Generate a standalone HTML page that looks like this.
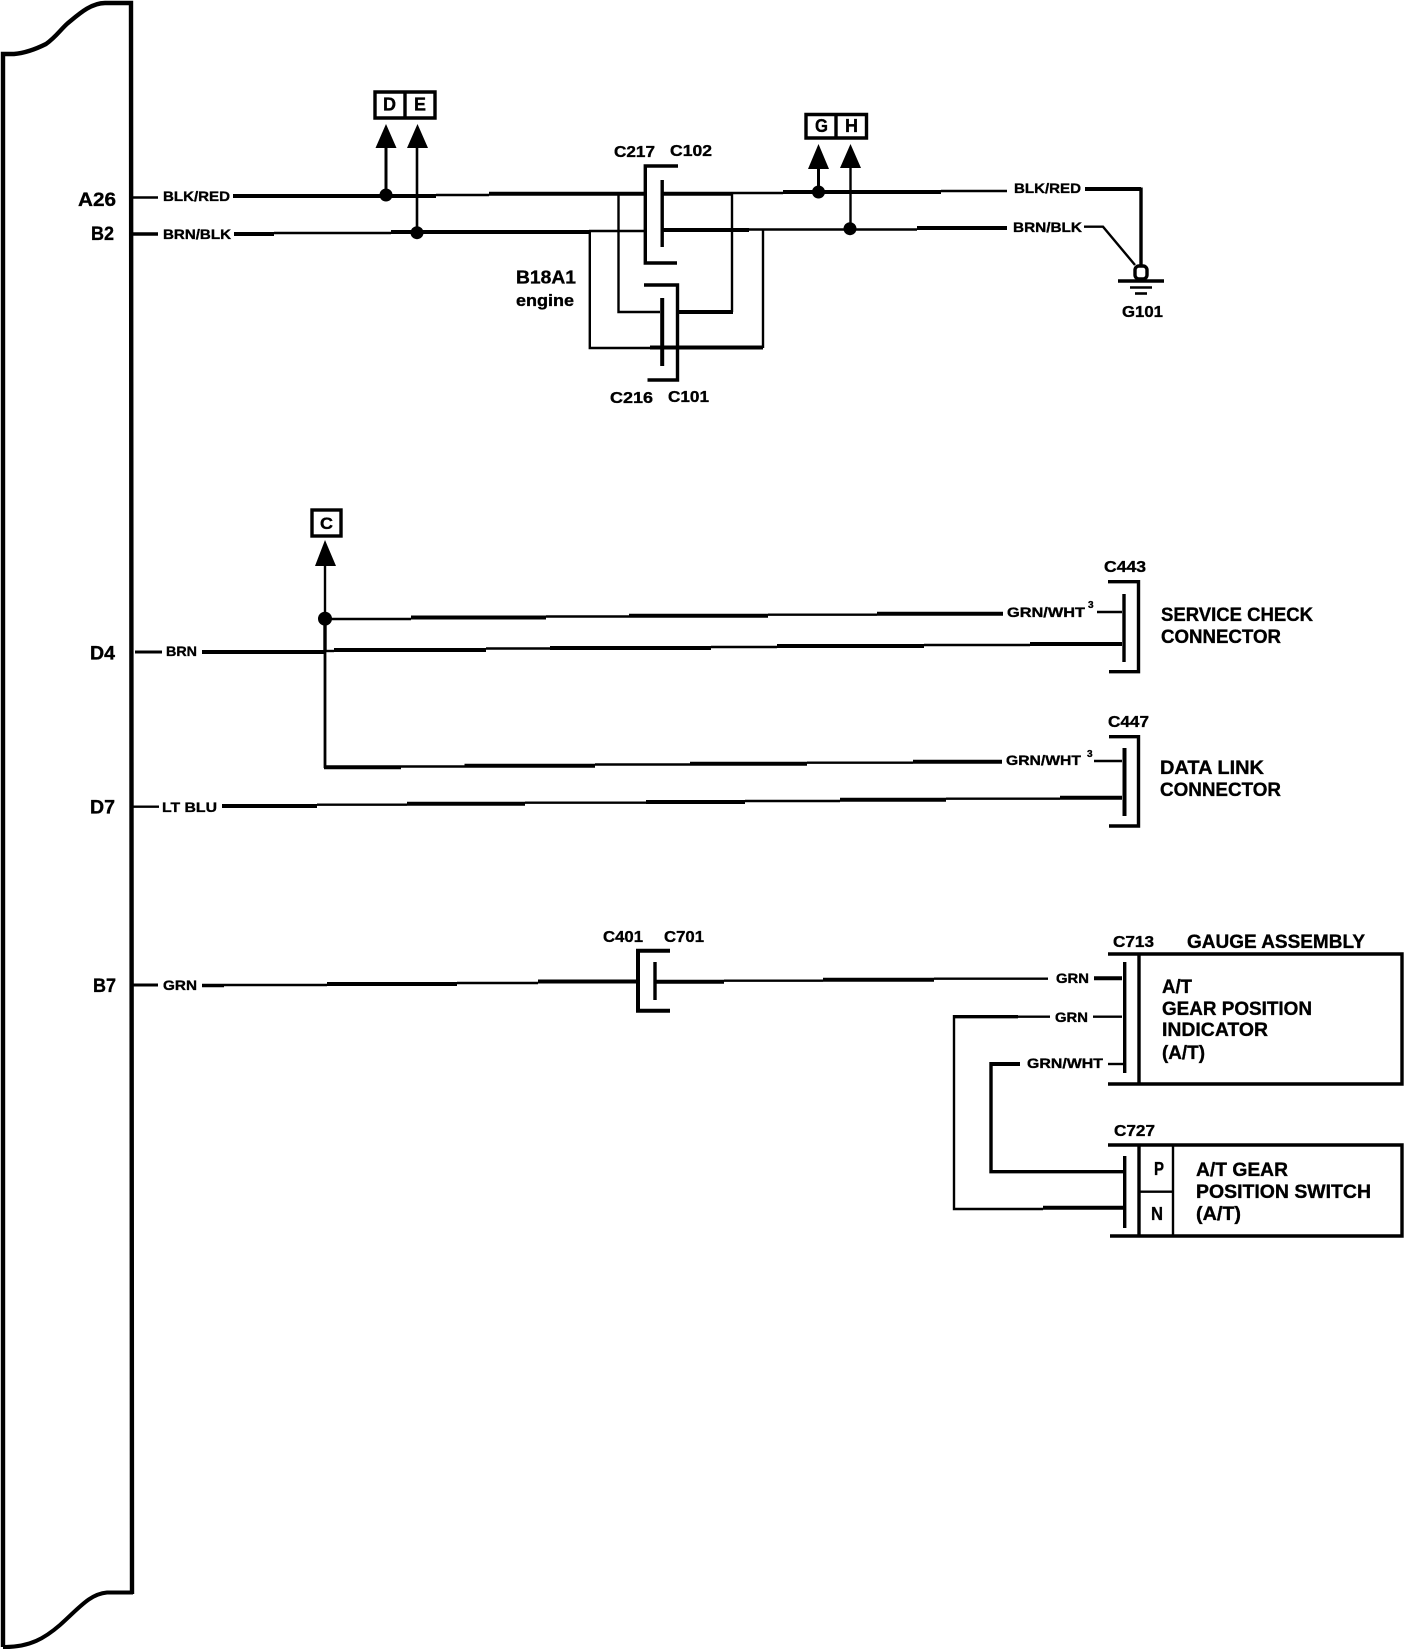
<!DOCTYPE html>
<html><head><meta charset="utf-8"><style>
html,body{margin:0;padding:0;background:#fff}
svg{display:block}
text{font-family:"Liberation Sans",sans-serif;font-weight:bold;fill:#000;stroke:#000;stroke-width:.35}
.s{font-size:14px}.m{font-size:16px}.l{font-size:19px}
.t{stroke:#000;stroke-width:4;fill:none}.n{stroke:#000;stroke-width:2.4;fill:none}.b{stroke:#000;stroke-width:3.4;fill:none}
</style></head><body>
<svg width="1408" height="1650" viewBox="0 0 1408 1650" xmlns="http://www.w3.org/2000/svg">
<rect width="1408" height="1650" fill="#fff"/>
<!-- body -->
<path class="t" d="M3 1647V54H14C26 53 36 49 46 44C56 37 61 29 68 23C79 14 91 3 105 3H131L132 1594" style="stroke-width:4.4"/>
<path class="t" d="M133 1592.500H107C90 1594 80 1607 60 1625C45 1638 30 1647 5 1647H3" style="stroke-width:4"/>
<!-- top wires A26 / B2 -->
<path class="n" d="M131 197.500H158"/><path class="b" d="M131 234H158"/>
<path class="t" d="M233 196H436"/><path class="n" d="M436 195H489"/><path class="t" d="M489 193.700H645"/>
<path class="t" d="M234 234H274"/><path class="n" d="M274 233H391"/><path class="t" d="M391 232H589"/><path class="n" d="M589 231H645"/>
<path class="n" d="M618.500 193V312H660"/>
<path class="n" d="M589.800 231V348H650"/><path class="t" d="M650 347.500H763"/><path class="n" d="M763 348V230"/>
<path class="t" d="M662 193.700H733"/><path class="n" d="M732 193V312"/><path class="t" d="M733 312H678"/>
<path class="n" d="M733 193H783"/><path class="t" d="M783 192H941"/><path class="n" d="M941 191H1007"/>
<path class="t" d="M1085 189H1141"/><path class="b" d="M1141 187.500V267"/>
<path class="t" d="M662 230H749"/><path class="n" d="M749 229.500H917"/><path class="t" d="M917 228H1007"/>
<path class="n" d="M1084 226.700H1103L1135 265"/>
<!-- ground -->
<rect x="1135" y="266" width="12" height="13" rx="4" class="b"/>
<path class="b" d="M1118 281H1164"/><path class="b" d="M1130 287.500H1152" style="stroke-width:2.6"/><path class="b" d="M1135 293.500H1147" style="stroke-width:2.6"/>
<!-- connectors top -->
<path class="b" d="M678 166H645.300V263H677"/><path class="b" d="M662.200 180V247"/>
<path class="b" d="M644 285H677.500V380H647.500"/><path class="t" d="M662.200 298V366"/>
<!-- dots and arrows top -->
<circle cx="386" cy="195" r="6.500"/><circle cx="417" cy="232.700" r="6.500"/><circle cx="818.500" cy="192" r="6.500"/><circle cx="850" cy="228.700" r="6.500"/>
<path class="b" d="M386 195V146" style="stroke-width:3"/><path class="b" d="M417 232V146" style="stroke-width:2.600"/>
<path class="b" d="M818.500 192V168" style="stroke-width:3"/><path class="n" d="M850.500 228V167"/>
<path d="M386 124L396.500 148H375.500Z"/><path d="M417.500 124L428 148H407Z"/>
<path d="M818.500 144L829 169H808Z"/><path d="M850.500 144L861 168H840Z"/>
<!-- boxes -->
<path class="b" d="M375 92H435V118H375ZM405 92V118"/>
<path class="b" d="M806 114.500H866.500V138H806ZM836 114V138"/>
<rect x="312" y="510" width="29" height="26" class="b"/>
<path d="M325 540L336 566H315Z"/>
<!-- middle -->
<path class="n" d="M325 565V620"/><path class="b" d="M325 620V652"/><path class="n" d="M325 652V768" style="stroke-width:2.800"/>
<circle cx="325" cy="618.700" r="7"/>
<path class="n" d="M135 652H162" style="stroke-width:3"/><path class="t" d="M202 652H325"/><path class="n" d="M325 651H334"/>
<path class="n" d="M325 619H411"/><path class="t" d="M411 617.500H546"/><path class="n" d="M546 616.500H629"/><path class="t" d="M629 615.700H768"/><path class="n" d="M768 614.700H877"/><path class="t" d="M877 613.700H1003"/>
<path class="t" d="M334 650H486"/><path class="n" d="M486 648.500H550"/><path class="t" d="M550 648H711"/><path class="n" d="M711 647H777"/><path class="t" d="M777 646H924"/><path class="n" d="M924 645H1030"/><path class="t" d="M1030 644H1122"/>
<path class="n" d="M1097 612H1122"/>
<path class="b" d="M1124 594V662"/><path class="b" d="M1108 581.700H1138.500V671.700H1109"/>
<path class="t" d="M324 767.300H401"/><path class="n" d="M401 766.500H464.500"/><path class="t" d="M464.500 765.700H595"/><path class="n" d="M595 764.500H690"/><path class="t" d="M690 763.700H807"/><path class="n" d="M807 762.700H913"/><path class="t" d="M913 761.700H1002"/>
<path class="n" d="M131 806.700H159"/><path class="t" d="M222 806H317"/><path class="n" d="M317 804.700H407"/><path class="t" d="M407 803.700H525"/><path class="n" d="M525 802.700H646"/><path class="t" d="M646 802H745"/><path class="n" d="M745 801H840"/><path class="t" d="M840 799.700H946"/><path class="n" d="M946 798.700H1060"/><path class="t" d="M1060 797.700H1122"/>
<path class="n" d="M1094 761H1122"/>
<path class="t" d="M1124.500 748V816"/><path class="b" d="M1109 736.700H1138.500V826H1109"/>
<!-- B7 -->
<path class="n" d="M131 985H158" style="stroke-width:3"/><path class="b" d="M202 985.500H224"/><path class="n" d="M224 985H327"/><path class="t" d="M327 984H457"/><path class="n" d="M457 983H538"/><path class="t" d="M538 981.500H638"/>
<path class="b" d="M670 950.700H638V1010.700H670" style="stroke-width:4"/><path class="b" d="M655 962V1000"/>
<path class="t" d="M655 981.700H724"/><path class="n" d="M724 980.700H823"/><path class="t" d="M823 979.700H934"/><path class="n" d="M934 978.700H1048"/>
<!-- gauge box -->
<path class="b" d="M1108 954H1402V1084H1108M1139 954V1084M1124.700 962V1073"/>
<path class="t" d="M1094 978.300H1122"/>
<path class="n" d="M1093 1016.700H1122"/><path class="b" d="M954 1016.700H1018"/><path class="n" d="M1018 1016.700H1050"/>
<path class="n" d="M1108 1064H1123"/><path class="t" d="M991 1064H1020"/>
<path class="b" d="M991 1062V1171.700H1123"/>
<path class="n" d="M954 1015V1209H1043"/><path class="t" d="M1043 1207.700H1123"/>
<!-- switch box -->
<path class="b" d="M1108 1145H1402V1236H1110M1139 1145V1237M1124.700 1156V1228"/>
<path class="n" d="M1173 1145V1236M1139 1191.700H1173"/>
<!-- labels -->
<text class="l" x="78" y="206" textLength="38" lengthAdjust="spacingAndGlyphs">A26</text>
<text class="l" x="91" y="240" textLength="23" lengthAdjust="spacingAndGlyphs">B2</text>
<text class="s" x="163" y="201" textLength="67" lengthAdjust="spacingAndGlyphs">BLK/RED</text>
<text class="s" x="163" y="239" textLength="68" lengthAdjust="spacingAndGlyphs">BRN/BLK</text>
<text class="l" x="383" y="110.500" textLength="13" lengthAdjust="spacingAndGlyphs" style="font-size:18px">D</text>
<text class="l" x="414" y="110.500" textLength="12" lengthAdjust="spacingAndGlyphs" style="font-size:18px">E</text>
<text class="l" x="815" y="132" textLength="13" lengthAdjust="spacingAndGlyphs" style="font-size:18px">G</text>
<text class="l" x="845" y="132" textLength="13" lengthAdjust="spacingAndGlyphs" style="font-size:18px">H</text>
<text class="l" x="320" y="529" textLength="13" lengthAdjust="spacingAndGlyphs" style="font-size:17px">C</text>
<text class="m" x="614" y="157" textLength="41" lengthAdjust="spacingAndGlyphs">C217</text>
<text class="m" x="670" y="156" textLength="42" lengthAdjust="spacingAndGlyphs">C102</text>
<text class="m" x="610" y="403" textLength="43" lengthAdjust="spacingAndGlyphs">C216</text>
<text class="m" x="668" y="402" textLength="41" lengthAdjust="spacingAndGlyphs">C101</text>
<text class="l" x="516" y="283.500" textLength="60" lengthAdjust="spacingAndGlyphs" style="font-size:18px">B18A1</text>
<text class="l" x="516" y="306" textLength="58" lengthAdjust="spacingAndGlyphs" style="font-size:17px">engine</text>
<text class="s" x="1014" y="193" textLength="67" lengthAdjust="spacingAndGlyphs">BLK/RED</text>
<text class="s" x="1013" y="232" textLength="69" lengthAdjust="spacingAndGlyphs">BRN/BLK</text>
<text class="m" x="1122" y="317" textLength="41" lengthAdjust="spacingAndGlyphs">G101</text>
<text class="l" x="90" y="659.500" textLength="25" lengthAdjust="spacingAndGlyphs">D4</text>
<text class="l" x="90" y="813.500" textLength="25" lengthAdjust="spacingAndGlyphs">D7</text>
<text class="l" x="93" y="992" textLength="23" lengthAdjust="spacingAndGlyphs">B7</text>
<text class="s" x="166" y="656" textLength="31" lengthAdjust="spacingAndGlyphs">BRN</text>
<text class="s" x="162" y="812" textLength="55" lengthAdjust="spacingAndGlyphs">LT BLU</text>
<text class="s" x="163" y="990" textLength="34" lengthAdjust="spacingAndGlyphs">GRN</text>
<text class="m" x="1104" y="572" textLength="42" lengthAdjust="spacingAndGlyphs">C443</text>
<text class="m" x="1108" y="727" textLength="41" lengthAdjust="spacingAndGlyphs">C447</text>
<text class="s" x="1007" y="617" textLength="78" lengthAdjust="spacingAndGlyphs">GRN/WHT</text>
<text x="1088" y="608" style="font-size:10px">3</text>
<text class="s" x="1006" y="765" textLength="75" lengthAdjust="spacingAndGlyphs">GRN/WHT</text>
<text x="1087" y="757" style="font-size:10px">3</text>
<text class="l" x="1161" y="621" textLength="152" lengthAdjust="spacingAndGlyphs">SERVICE CHECK</text>
<text class="l" x="1161" y="643" textLength="120" lengthAdjust="spacingAndGlyphs">CONNECTOR</text>
<text class="l" x="1160" y="774" textLength="104" lengthAdjust="spacingAndGlyphs">DATA LINK</text>
<text class="l" x="1160" y="796" textLength="121" lengthAdjust="spacingAndGlyphs">CONNECTOR</text>
<text class="m" x="603" y="942" textLength="40" lengthAdjust="spacingAndGlyphs">C401</text>
<text class="m" x="664" y="942" textLength="40" lengthAdjust="spacingAndGlyphs">C701</text>
<text class="m" x="1113" y="947" textLength="41" lengthAdjust="spacingAndGlyphs">C713</text>
<text class="l" x="1187" y="948" textLength="178" lengthAdjust="spacingAndGlyphs">GAUGE ASSEMBLY</text>
<text class="s" x="1056" y="983" textLength="33" lengthAdjust="spacingAndGlyphs">GRN</text>
<text class="s" x="1055" y="1022" textLength="33" lengthAdjust="spacingAndGlyphs">GRN</text>
<text class="s" x="1027" y="1068" textLength="76" lengthAdjust="spacingAndGlyphs">GRN/WHT</text>
<text class="l" x="1162" y="993" textLength="30" lengthAdjust="spacingAndGlyphs">A/T</text>
<text class="l" x="1162" y="1015" textLength="150" lengthAdjust="spacingAndGlyphs">GEAR POSITION</text>
<text class="l" x="1162" y="1036" textLength="106" lengthAdjust="spacingAndGlyphs">INDICATOR</text>
<text class="l" x="1162" y="1059" textLength="43" lengthAdjust="spacingAndGlyphs">(A/T)</text>
<text class="m" x="1114" y="1136" textLength="41" lengthAdjust="spacingAndGlyphs">C727</text>
<text class="m" x="1154" y="1175" textLength="10" lengthAdjust="spacingAndGlyphs" style="font-size:18px">P</text>
<text class="m" x="1151" y="1220" textLength="12" lengthAdjust="spacingAndGlyphs" style="font-size:18px">N</text>
<text class="l" x="1196" y="1176" textLength="92" lengthAdjust="spacingAndGlyphs">A/T GEAR</text>
<text class="l" x="1196" y="1198" textLength="175" lengthAdjust="spacingAndGlyphs">POSITION SWITCH</text>
<text class="l" x="1196" y="1220" textLength="45" lengthAdjust="spacingAndGlyphs">(A/T)</text>
</svg>
</body></html>
